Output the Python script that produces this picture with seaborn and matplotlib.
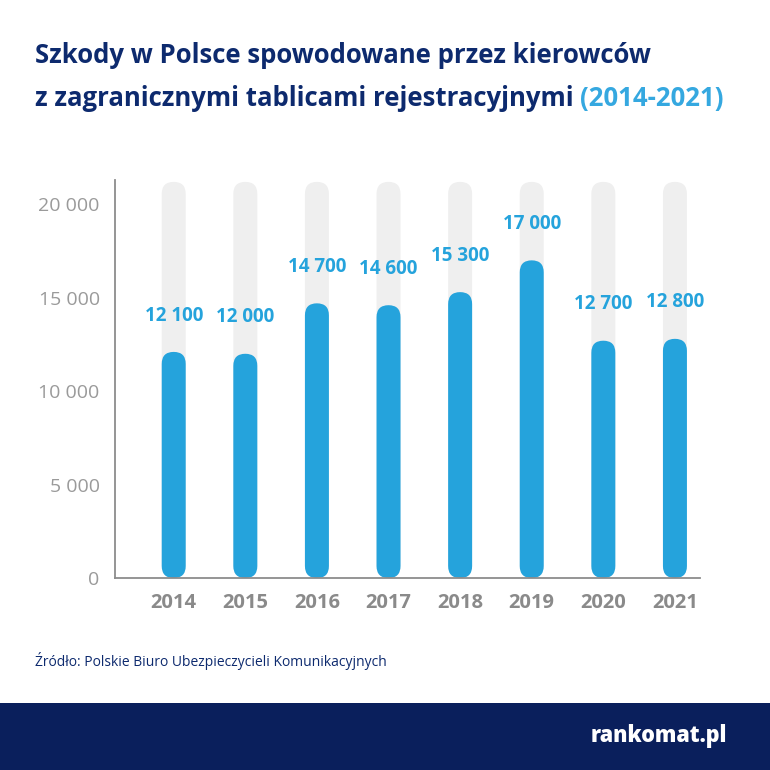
import numpy as np
import pandas as pd
import matplotlib
matplotlib.use("Agg")
import matplotlib.pyplot as plt
import seaborn as sns
from matplotlib.patches import FancyBboxPatch, Rectangle

# dane
years = ["2014", "2015", "2016", "2017", "2018", "2019", "2020", "2021"]
claims = [12100, 12000, 14700, 14600, 15300, 17000, 12700, 12800]
y_ticks = [0, 5000, 10000, 15000, 20000]
y_tick_labels = ["0", "5 000", "10 000", "15 000", "20 000"]
bg_max = 21200

title_1 = "Szkody w Polsce spowodowane przez kierowców"
title_2 = "z zagranicznymi tablicami rejestracyjnymi "
title_years = "(2014-2021)"
source = "Źródło: Polskie Biuro Ubezpieczycieli Komunikacyjnych"
brand = "rankomat.pl"

BLUE = "#25a3dc"
GREY_BAR = "#efefef"
NAVY = "#0d2a6e"
FOOTER = "#0a1f5c"
TICK = "#9a9a9a"

sns.set_theme(style="white")
plt.rcParams["font.family"] = ["Open Sans", "DejaVu Sans"]

df = pd.DataFrame({"year": years, "claims": claims, "bg": [bg_max] * len(years)})

fig = plt.figure(figsize=(7.7, 7.7), dpi=100)
ax = fig.add_axes([115 / 770, 1 - 578 / 770, 585 / 770, 398 / 770])

sns.barplot(data=df, x="year", y="bg", color=GREY_BAR, width=0.335, ax=ax,
            saturation=1)
sns.barplot(data=df, x="year", y="claims", color=BLUE, width=0.335, ax=ax,
            saturation=1)

ax.set_xlim(-0.82, 7.35)
ax.set_ylim(0, 21300)

# zaokrąglone słupki (pigułki)
fig.canvas.draw()
px_x = ax.transData.transform([(1, 0)])[0][0] - ax.transData.transform([(0, 0)])[0][0]
px_y = ax.transData.transform([(0, 1000)])[0][1] - ax.transData.transform([(0, 0)])[0][1]
aspect = (1000 / px_y) / (1 / px_x)
for bar in list(ax.patches):
    x, y = bar.get_x(), bar.get_y()
    w, h = bar.get_width(), bar.get_height()
    fc = bar.get_facecolor()
    bar.set_visible(False)
    pill = FancyBboxPatch((x, y), w, h,
                          boxstyle=f"round,pad=0,rounding_size={w / 2}",
                          mutation_aspect=aspect, facecolor=fc,
                          edgecolor="none", zorder=bar.get_zorder())
    ax.add_patch(pill)

for i, v in enumerate(claims):
    ax.annotate(f"{v:,}".replace(",", " "), (i, v), xytext=(0, 19),
                textcoords="offset points", ha="center", va="bottom",
                color=BLUE, fontsize=13.5, fontweight="bold")

ax.set_yticks(y_ticks)
ax.set_yticklabels(y_tick_labels)
ax.set_xlabel("")
ax.set_ylabel("")
ax.tick_params(axis="y", length=0, pad=11, labelsize=14, labelcolor=TICK)
ax.tick_params(axis="x", length=0, pad=11, labelsize=14.5, labelcolor="#8a8a8a")
for lab in ax.get_xticklabels():
    lab.set_fontweight("bold")

sns.despine(ax=ax, top=True, right=True)
for s in ["left", "bottom"]:
    ax.spines[s].set_color("#8c8c8c")
    ax.spines[s].set_linewidth(1.3)

# tytuł
fig.text(35 / 770, 1 - 63 / 770, title_1, color=NAVY, fontsize=18.5,
         fontweight="bold", ha="left", va="baseline")
t2 = fig.text(35 / 770, 1 - 106 / 770, title_2, color=NAVY, fontsize=18.5,
              fontweight="bold", ha="left", va="baseline")
fig.canvas.draw()
bb = t2.get_window_extent()
fig.text(bb.x1 / 770, 1 - 106 / 770, title_years, color="#35a8e0",
         fontsize=18.5, fontweight="bold", ha="left", va="baseline")

fig.text(35 / 770, 1 - 666 / 770, source, color=NAVY, fontsize=10,
         ha="left", va="baseline")

# stopka
fig.patches.append(Rectangle((0, 0), 1, 67 / 770, transform=fig.transFigure,
                             facecolor=FOOTER, edgecolor="none", zorder=0))
fig.text(727 / 770, 1 - 736 / 770, brand, color="white", fontsize=15.5,
         fontweight="heavy", ha="right", va="center")

fig.savefig("out.png", dpi=100, facecolor="white")
